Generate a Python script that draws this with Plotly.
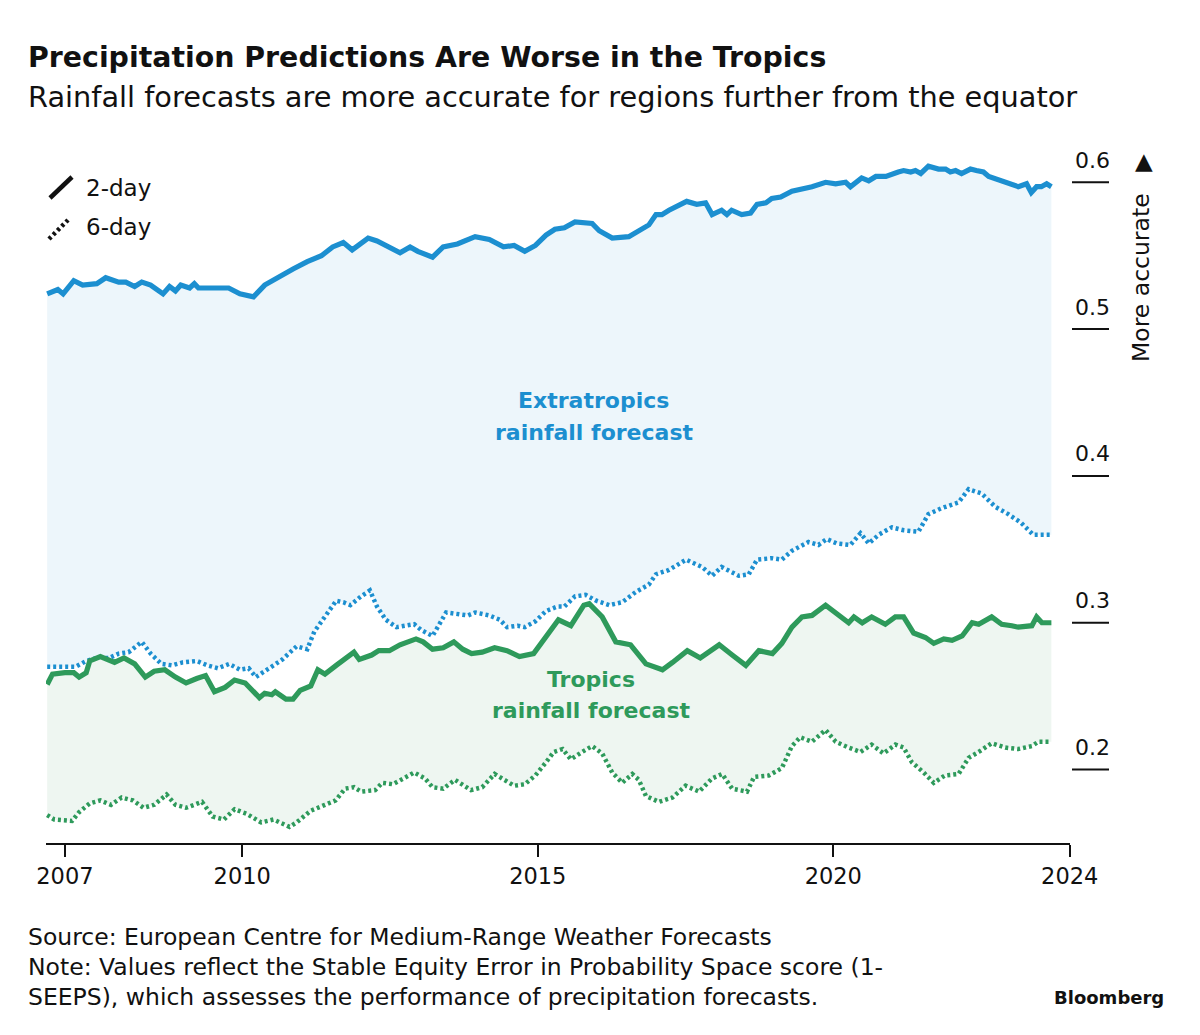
import plotly.graph_objects as go

# ---------------- data (decimal year, 1-SEEPS score) ----------------
extra_2day = [
    (2006.70, 0.524), (2006.88, 0.527), (2006.97, 0.524), (2007.15, 0.533), (2007.30, 0.530),
    (2007.54, 0.531), (2007.69, 0.535), (2007.91, 0.532), (2008.03, 0.532), (2008.18, 0.529),
    (2008.30, 0.532), (2008.45, 0.530), (2008.66, 0.524), (2008.77, 0.529), (2008.87, 0.526),
    (2008.96, 0.530), (2009.11, 0.528), (2009.19, 0.531), (2009.26, 0.528), (2009.53, 0.528),
    (2009.77, 0.528), (2009.96, 0.524), (2010.19, 0.522), (2010.38, 0.530), (2010.63, 0.536),
    (2010.86, 0.541), (2011.10, 0.546), (2011.34, 0.550), (2011.53, 0.556), (2011.71, 0.559),
    (2011.86, 0.554), (2011.98, 0.558), (2012.13, 0.562), (2012.28, 0.560), (2012.46, 0.556),
    (2012.67, 0.552), (2012.84, 0.556), (2012.97, 0.553), (2013.22, 0.549), (2013.40, 0.556),
    (2013.64, 0.558), (2013.94, 0.563), (2014.18, 0.561), (2014.42, 0.556), (2014.60, 0.557),
    (2014.78, 0.553), (2014.96, 0.557), (2015.14, 0.564), (2015.29, 0.568), (2015.45, 0.569),
    (2015.63, 0.573), (2015.92, 0.572), (2016.04, 0.567), (2016.26, 0.562), (2016.54, 0.563),
    (2016.71, 0.567), (2016.88, 0.571), (2017.00, 0.578), (2017.10, 0.578), (2017.22, 0.581),
    (2017.39, 0.584), (2017.52, 0.587), (2017.69, 0.585), (2017.84, 0.586), (2017.95, 0.578),
    (2018.11, 0.581), (2018.20, 0.578), (2018.28, 0.581), (2018.45, 0.578), (2018.60, 0.579),
    (2018.71, 0.585), (2018.86, 0.586), (2018.96, 0.589), (2019.11, 0.590), (2019.30, 0.594),
    (2019.53, 0.596), (2019.64, 0.597), (2019.87, 0.600), (2020.04, 0.599), (2020.21, 0.600),
    (2020.29, 0.597), (2020.48, 0.603), (2020.60, 0.601), (2020.72, 0.604), (2020.89, 0.604),
    (2021.10, 0.607), (2021.19, 0.608), (2021.31, 0.607), (2021.39, 0.608), (2021.48, 0.606),
    (2021.61, 0.611), (2021.78, 0.609), (2021.90, 0.609), (2021.98, 0.607), (2022.07, 0.608),
    (2022.17, 0.606), (2022.32, 0.609), (2022.42, 0.608), (2022.54, 0.607), (2022.63, 0.604),
    (2022.79, 0.602), (2022.96, 0.600), (2023.13, 0.597), (2023.27, 0.599), (2023.35, 0.593),
    (2023.44, 0.597), (2023.52, 0.597), (2023.61, 0.599), (2023.69, 0.597),
]

extra_6day = [
    (2006.70, 0.270), (2006.94, 0.270), (2007.18, 0.270), (2007.36, 0.274), (2007.54, 0.276),
    (2007.75, 0.276), (2007.91, 0.279), (2008.08, 0.280), (2008.30, 0.287), (2008.45, 0.279),
    (2008.63, 0.272), (2008.81, 0.271), (2008.99, 0.273), (2009.23, 0.274), (2009.41, 0.271),
    (2009.59, 0.269), (2009.78, 0.272), (2009.96, 0.268), (2010.11, 0.269), (2010.23, 0.263),
    (2010.44, 0.269), (2010.68, 0.275), (2010.92, 0.284), (2011.10, 0.282), (2011.22, 0.294),
    (2011.40, 0.304), (2011.59, 0.315), (2011.71, 0.314), (2011.83, 0.312), (2012.01, 0.318),
    (2012.16, 0.322), (2012.28, 0.311), (2012.43, 0.302), (2012.61, 0.297), (2012.79, 0.298),
    (2012.91, 0.299), (2013.03, 0.295), (2013.22, 0.291), (2013.45, 0.307), (2013.64, 0.306),
    (2013.82, 0.305), (2013.94, 0.307), (2014.18, 0.305), (2014.36, 0.302), (2014.48, 0.297),
    (2014.66, 0.298), (2014.78, 0.297), (2014.96, 0.301), (2015.14, 0.308), (2015.33, 0.311),
    (2015.45, 0.311), (2015.63, 0.318), (2015.81, 0.319), (2015.99, 0.315), (2016.21, 0.312),
    (2016.43, 0.314), (2016.66, 0.321), (2016.88, 0.326), (2017.00, 0.333), (2017.22, 0.336),
    (2017.51, 0.343), (2017.78, 0.338), (2017.95, 0.332), (2018.11, 0.338), (2018.40, 0.332),
    (2018.57, 0.333), (2018.71, 0.343), (2018.96, 0.344), (2019.13, 0.343), (2019.30, 0.349),
    (2019.58, 0.355), (2019.75, 0.353), (2019.89, 0.357), (2020.06, 0.354), (2020.29, 0.353),
    (2020.46, 0.361), (2020.60, 0.354), (2020.77, 0.360), (2020.99, 0.365), (2021.19, 0.363),
    (2021.44, 0.362), (2021.61, 0.374), (2021.83, 0.378), (2022.12, 0.382), (2022.29, 0.391),
    (2022.51, 0.388), (2022.74, 0.379), (2022.96, 0.374), (2023.18, 0.368), (2023.38, 0.360),
    (2023.59, 0.360), (2023.69, 0.360),
]

tropics_2day = [
    (2006.70, 0.258), (2006.79, 0.265), (2007.00, 0.266), (2007.15, 0.266), (2007.24, 0.263),
    (2007.36, 0.266), (2007.42, 0.274), (2007.60, 0.277), (2007.84, 0.273), (2008.00, 0.276),
    (2008.18, 0.272), (2008.36, 0.263), (2008.51, 0.267), (2008.69, 0.268), (2008.87, 0.263),
    (2009.05, 0.259), (2009.23, 0.262), (2009.38, 0.264), (2009.53, 0.253), (2009.71, 0.256),
    (2009.87, 0.261), (2010.05, 0.259), (2010.29, 0.249), (2010.38, 0.252), (2010.50, 0.251),
    (2010.56, 0.253), (2010.74, 0.248), (2010.86, 0.248), (2010.98, 0.254), (2011.16, 0.257),
    (2011.28, 0.268), (2011.40, 0.265), (2011.59, 0.271), (2011.76, 0.276), (2011.89, 0.280),
    (2011.98, 0.275), (2012.19, 0.278), (2012.31, 0.281), (2012.49, 0.281), (2012.67, 0.285),
    (2012.79, 0.287), (2012.94, 0.289), (2013.06, 0.287), (2013.22, 0.282), (2013.40, 0.283),
    (2013.58, 0.287), (2013.73, 0.282), (2013.88, 0.279), (2014.06, 0.280), (2014.27, 0.283),
    (2014.48, 0.281), (2014.69, 0.277), (2014.93, 0.279), (2015.14, 0.290), (2015.35, 0.302),
    (2015.56, 0.298), (2015.78, 0.312), (2015.87, 0.313), (2016.09, 0.304), (2016.32, 0.287),
    (2016.57, 0.285), (2016.83, 0.272), (2017.11, 0.268), (2017.28, 0.273), (2017.53, 0.281),
    (2017.75, 0.276), (2018.07, 0.285), (2018.29, 0.278), (2018.52, 0.271), (2018.74, 0.281),
    (2018.97, 0.279), (2019.13, 0.286), (2019.30, 0.297), (2019.47, 0.304), (2019.64, 0.305),
    (2019.87, 0.312), (2020.09, 0.305), (2020.26, 0.300), (2020.35, 0.304), (2020.49, 0.300),
    (2020.65, 0.304), (2020.88, 0.299), (2021.05, 0.304), (2021.19, 0.304), (2021.36, 0.293),
    (2021.56, 0.290), (2021.70, 0.286), (2021.87, 0.289), (2022.01, 0.288), (2022.18, 0.291),
    (2022.35, 0.300), (2022.46, 0.299), (2022.68, 0.304), (2022.85, 0.299), (2023.02, 0.298),
    (2023.13, 0.297), (2023.36, 0.298), (2023.44, 0.304), (2023.53, 0.300), (2023.69, 0.300),
]

tropics_6day = [
    (2006.70, 0.169), (2006.82, 0.166), (2007.12, 0.165), (2007.24, 0.171), (2007.42, 0.177),
    (2007.60, 0.179), (2007.78, 0.176), (2007.96, 0.181), (2008.15, 0.179), (2008.33, 0.174),
    (2008.51, 0.176), (2008.72, 0.183), (2008.87, 0.176), (2009.05, 0.174), (2009.32, 0.178),
    (2009.50, 0.168), (2009.69, 0.166), (2009.87, 0.173), (2010.07, 0.170), (2010.32, 0.164),
    (2010.53, 0.166), (2010.80, 0.161), (2010.92, 0.164), (2011.16, 0.172), (2011.40, 0.176),
    (2011.58, 0.179), (2011.74, 0.187), (2011.89, 0.188), (2012.01, 0.185), (2012.25, 0.186),
    (2012.37, 0.191), (2012.55, 0.190), (2012.73, 0.194), (2012.91, 0.198), (2013.09, 0.194),
    (2013.22, 0.188), (2013.40, 0.187), (2013.60, 0.193), (2013.87, 0.186), (2014.06, 0.188),
    (2014.27, 0.197), (2014.42, 0.193), (2014.60, 0.189), (2014.78, 0.190), (2014.96, 0.196),
    (2015.14, 0.205), (2015.27, 0.212), (2015.42, 0.214), (2015.56, 0.207), (2015.75, 0.212),
    (2015.92, 0.216), (2016.09, 0.211), (2016.26, 0.198), (2016.43, 0.191), (2016.60, 0.197),
    (2016.71, 0.193), (2016.83, 0.182), (2017.05, 0.178), (2017.28, 0.181), (2017.50, 0.189),
    (2017.73, 0.185), (2017.95, 0.194), (2018.12, 0.197), (2018.29, 0.187), (2018.54, 0.185),
    (2018.66, 0.195), (2018.91, 0.196), (2019.13, 0.201), (2019.30, 0.216), (2019.44, 0.222),
    (2019.64, 0.219), (2019.87, 0.227), (2020.04, 0.219), (2020.26, 0.215), (2020.46, 0.212),
    (2020.65, 0.217), (2020.85, 0.211), (2021.05, 0.217), (2021.19, 0.215), (2021.33, 0.205),
    (2021.53, 0.198), (2021.70, 0.191), (2021.89, 0.196), (2022.12, 0.197), (2022.29, 0.208),
    (2022.46, 0.212), (2022.68, 0.218), (2022.91, 0.215), (2023.13, 0.214), (2023.36, 0.216),
    (2023.47, 0.219), (2023.69, 0.219),
]

x_tick_years = [2007, 2010, 2015, 2020, 2024]
x_tick_labels = ["2007", "2010", "2015", "2020", "2024"]
y_tick_values = [0.2, 0.3, 0.4, 0.5, 0.6]
y_tick_labels = ["0.2", "0.3", "0.4", "0.5", "0.6"]

# ---------------- styling ----------------
FONT = "DejaVu Sans"
INK = "#111111"
BLUE = "#1c8fd0"
GREEN = "#2e9a5b"
BLUE_FILL = "#edf6fb"
GREEN_FILL = "#eef6f1"

W, H = 1200, 1035
ML, MR, MT, MB = 46, 130, 150, 192
PW, PH = W - ML - MR, H - MT - MB


def px(x):
    return (x - ML) / PW


def py(y):
    return (H - MB - y) / PH


def split(pairs):
    return [p[0] for p in pairs], [p[1] for p in pairs]


fig = go.Figure()

for six, two, col, fillcol in [
    (extra_6day, extra_2day, BLUE, BLUE_FILL),
    (tropics_6day, tropics_2day, GREEN, GREEN_FILL),
]:
    x6, y6 = split(six)
    x2, y2 = split(two)
    fig.add_trace(go.Scatter(
        x=x6, y=y6, mode="lines",
        line=dict(color=col, width=4.5, dash="3px,3px"),
        hoverinfo="skip", showlegend=False,
    ))
    fig.add_trace(go.Scatter(
        x=x2, y=y2, mode="lines",
        line=dict(color=col, width=5.2),
        fill="tonexty", fillcolor=fillcol,
        hoverinfo="skip", showlegend=False,
    ))

annotations = []
shapes = []

# right-hand value labels sitting above short tick lines
for v, lab in zip(y_tick_values, y_tick_labels):
    annotations.append(dict(
        text=lab, xref="paper", yref="y", x=px(1092), y=v, yshift=22,
        xanchor="center", yanchor="middle", showarrow=False,
        font=dict(family=FONT, size=22, color=INK),
    ))
    shapes.append(dict(
        type="line", xref="paper", yref="y", x0=px(1072), x1=px(1109), y0=v, y1=v,
        line=dict(color=INK, width=2),
    ))

annotations += [
    dict(text="More accurate", xref="paper", yref="paper", x=px(1141), y=py(278),
         textangle=-90, showarrow=False, xanchor="center", yanchor="middle",
         font=dict(family=FONT, size=23.5, color=INK)),
    dict(text="▲", xref="paper", yref="paper", x=px(1144), y=py(161),
         showarrow=False, xanchor="center", yanchor="middle",
         font=dict(family=FONT, size=23, color=INK)),
    # title / subtitle
    dict(text="<b>Precipitation Predictions Are Worse in the Tropics</b>",
         xref="paper", yref="paper", x=px(26), y=py(57), xanchor="left", yanchor="middle",
         showarrow=False, font=dict(family=FONT, size=28.4, color=INK)),
    dict(text="Rainfall forecasts are more accurate for regions further from the equator",
         xref="paper", yref="paper", x=px(26), y=py(97), xanchor="left", yanchor="middle",
         showarrow=False, font=dict(family=FONT, size=28.8, color=INK)),
    # legend
    dict(text="2-day", xref="paper", yref="paper", x=px(84), y=py(188), xanchor="left",
         yanchor="middle", showarrow=False, font=dict(family=FONT, size=23, color=INK)),
    dict(text="6-day", xref="paper", yref="paper", x=px(84), y=py(227), xanchor="left",
         yanchor="middle", showarrow=False, font=dict(family=FONT, size=23, color=INK)),
    # series labels
    dict(text="<b>Extratropics</b>", xref="x", yref="y",
         x=2015.95, y=0.4515, showarrow=False, xanchor="center", yanchor="middle",
         font=dict(family=FONT, size=22, color=BLUE)),
    dict(text="<b>rainfall forecast</b>", xref="x", yref="y",
         x=2015.95, y=0.4297, showarrow=False, xanchor="center", yanchor="middle",
         font=dict(family=FONT, size=22, color=BLUE)),
    dict(text="<b>Tropics</b>", xref="x", yref="y",
         x=2015.90, y=0.2613, showarrow=False, xanchor="center", yanchor="middle",
         font=dict(family=FONT, size=22, color=GREEN)),
    dict(text="<b>rainfall forecast</b>", xref="x", yref="y",
         x=2015.90, y=0.2402, showarrow=False, xanchor="center", yanchor="middle",
         font=dict(family=FONT, size=22, color=GREEN)),
    # footer
    dict(text="Source: European Centre for Medium-Range Weather Forecasts",
         xref="paper", yref="paper", x=px(26), y=py(937), xanchor="left", yanchor="middle",
         showarrow=False, font=dict(family=FONT, size=23.5, color=INK)),
    dict(text="Note: Values reflect the Stable Equity Error in Probability Space score (1-",
         xref="paper", yref="paper", x=px(26), y=py(967), xanchor="left", yanchor="middle",
         showarrow=False, font=dict(family=FONT, size=23.5, color=INK)),
    dict(text="SEEPS), which assesses the performance of precipitation forecasts.",
         xref="paper", yref="paper", x=px(26), y=py(997), xanchor="left", yanchor="middle",
         showarrow=False, font=dict(family=FONT, size=23.5, color=INK)),
    dict(text="<b>Bloomberg</b>", xref="paper", yref="paper", x=px(1166), y=py(997),
         xanchor="right", yanchor="middle", showarrow=False,
         font=dict(family=FONT, size=18, color=INK)),
]

# legend icons (slanted strokes)
shapes += [
    dict(type="line", xref="paper", yref="paper", x0=px(50), y0=py(198), x1=px(72), y1=py(177),
         line=dict(color=INK, width=4.5)),
    dict(type="line", xref="paper", yref="paper", x0=px(49), y0=py(239), x1=px(68), y1=py(220),
         line=dict(color=INK, width=4.5, dash="3px,3px")),
]

fig.update_layout(
    width=W, height=H,
    margin=dict(l=ML, r=MR, t=MT, b=MB),
    paper_bgcolor="white", plot_bgcolor="white",
    showlegend=False, hovermode=False,
    annotations=annotations, shapes=shapes,
    xaxis=dict(
        range=[2006.68, 2024.005], tickvals=x_tick_years, ticktext=x_tick_labels,
        ticks="outside", ticklen=12, tickwidth=1.5, tickcolor=INK,
        showline=True, linecolor=INK, linewidth=2,
        showgrid=False, zeroline=False,
        tickfont=dict(family=FONT, size=22.5, color=INK),
        ticklabelstandoff=0,
    ),
    yaxis=dict(range=[0.15, 0.622], visible=False, showgrid=False, zeroline=False),
)

fig.write_html("out.html")
